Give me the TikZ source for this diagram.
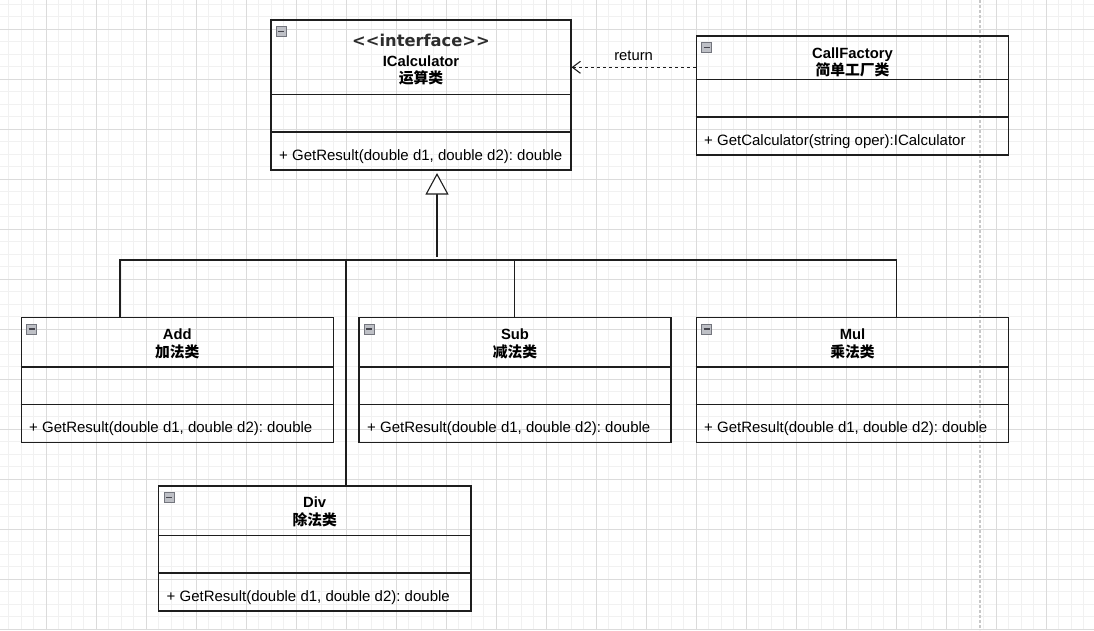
\documentclass[tikz,border=0pt]{standalone}
\usepackage{fontspec}
\setmainfont{Liberation Sans}
\newfontfamily\cjkfont{Noto Sans CJK SC}
\newfontfamily\stereofont{DejaVu Sans}
\usetikzlibrary{arrows.meta}
\frenchspacing

\definecolor{gridminor}{RGB}{241,241,241}
\definecolor{gridmajor}{RGB}{219,219,219}
\definecolor{pagesplit}{RGB}{200,200,200}
\definecolor{boxline}{RGB}{30,30,30}
\definecolor{iconfill}{RGB}{190,192,198}
\definecolor{iconline}{RGB}{115,117,125}
\definecolor{iconbar}{RGB}{70,70,78}
\definecolor{stereo}{RGB}{45,45,45}

\tikzset{
  classbox/.style={draw=boxline, line width=1.1pt, inner sep=0pt, rectangle},
  sepline/.style={draw=boxline, line width=1.1pt},
  classname/.style={anchor=base, inner sep=0pt, font=\bfseries\fontsize{14.8}{18}\selectfont},
  cjkname/.style={anchor=base, inner sep=0pt, font=\cjkfont\bfseries\fontsize{14.8}{18}\selectfont},
  stereotype/.style={anchor=base, inner sep=0pt, text=stereo, font=\stereofont\bfseries\fontsize{16.3}{19}\selectfont},
  member/.style={anchor=base west, inner sep=0pt, font=\fontsize{15}{18}\selectfont},
  edgelabel/.style={anchor=base, inner sep=0pt, font=\fontsize{14.8}{18}\selectfont},
  generalize/.style={draw=boxline, line width=1.1pt},
  realize/.style={draw=boxline, line width=1.1pt, -{Triangle[length=21.5pt, width=23pt, fill=white]}},
  dependency/.style={draw=boxline, line width=1.1pt, dash pattern=on 3pt off 3pt,
    -{Straight Barb[length=8pt, width=12pt, line width=1.1pt]}},
  collapse/.pic={
    \draw[fill=iconfill, draw=iconline, line width=0.8pt] (0,0) rectangle (10,10);
    \draw[iconbar, line width=1.4pt] (2,5) -- (8,5);
  }
}

\begin{document}
\begin{tikzpicture}[x=1pt, y=-1pt]
  \useasboundingbox (0,0) rectangle (1094,630);
  \fill[white] (0,0) rectangle (1094,630);

  % background grid
  \foreach \x in {8.5,21,...,1094} \draw[gridminor, line width=1pt] (\x,0) -- (\x,630);
  \foreach \y in {4,16.5,...,630} \draw[gridminor, line width=1pt] (0,\y) -- (1094,\y);
  \foreach \x in {46,96,...,1094} \draw[gridmajor, line width=1pt] (\x,0) -- (\x,630);
  \foreach \y in {29,79,...,630} \draw[gridmajor, line width=1pt] (0,\y) -- (1094,\y);

  % page break marker
  \draw[pagesplit, line width=1.3pt, dash pattern=on 3pt off 2pt] (980,0) -- (980,630);

  % ---- ICalculator ----
  \node[classbox, minimum width=300pt, minimum height=150pt] (calc) at (421,95) {};
  \draw[sepline] ([yshift=-75pt]calc.north west) -- ([yshift=-75pt]calc.north east);
  \draw[sepline] ([yshift=-112.5pt]calc.north west) -- ([yshift=-112.5pt]calc.north east);
  \pic at ([xshift=6pt, yshift=-7pt]calc.north west) {collapse};
  \node[stereotype] (calcS) at (421,46.7) {<<interface>>};
  \node[classname] (calcN) at (421,66) {ICalculator};
  \node[cjkname] (calcC) at (421,83.5) {运算类};
  \node[member] (calcM) at (279,160.5) {+ GetResult(double d1, double d2): double};

  % ---- CallFactory ----
  \node[classbox, minimum width=312.5pt, minimum height=119pt] (factory) at (852.5,95.5) {};
  \draw[sepline] ([yshift=-44pt]factory.north west) -- ([yshift=-44pt]factory.north east);
  \draw[sepline] ([yshift=-81.5pt]factory.north west) -- ([yshift=-81.5pt]factory.north east);
  \pic at ([xshift=6pt, yshift=-7pt]factory.north west) {collapse};
  \node[classname] (factoryN) at (852.5,58.3) {CallFactory};
  \node[cjkname] (factoryC) at (852.5,75.8) {简单工厂类};
  \node[member] (factoryM) at (704,145) {+ GetCalculator(string oper):ICalculator};

  % ---- Add ----
  \node[classbox, minimum width=312pt, minimum height=125pt] (add) at (177.2,380) {};
  \draw[sepline] ([yshift=-50pt]add.north west) -- ([yshift=-50pt]add.north east);
  \draw[sepline] ([yshift=-87.5pt]add.north west) -- ([yshift=-87.5pt]add.north east);
  \pic at ([xshift=6pt, yshift=-7pt]add.north west) {collapse};
  \node[classname] (addN) at (177.2,339.5) {Add};
  \node[cjkname] (addC) at (177.2,357.5) {加法类};
  \node[member] (addM) at (29,432.5) {+ GetResult(double d1, double d2): double};

  % ---- Sub ----
  \node[classbox, minimum width=312pt, minimum height=125pt] (sub) at (515,380) {};
  \draw[sepline] ([yshift=-50pt]sub.north west) -- ([yshift=-50pt]sub.north east);
  \draw[sepline] ([yshift=-87.5pt]sub.north west) -- ([yshift=-87.5pt]sub.north east);
  \pic at ([xshift=6pt, yshift=-7pt]sub.north west) {collapse};
  \node[classname] (subN) at (515,339.5) {Sub};
  \node[cjkname] (subC) at (515,357.5) {减法类};
  \node[member] (subM) at (367,432.5) {+ GetResult(double d1, double d2): double};

  % ---- Mul ----
  \node[classbox, minimum width=312.5pt, minimum height=125pt] (mul) at (852.5,380) {};
  \draw[sepline] ([yshift=-50pt]mul.north west) -- ([yshift=-50pt]mul.north east);
  \draw[sepline] ([yshift=-87.5pt]mul.north west) -- ([yshift=-87.5pt]mul.north east);
  \pic at ([xshift=6pt, yshift=-7pt]mul.north west) {collapse};
  \node[classname] (mulN) at (852.5,339.5) {Mul};
  \node[cjkname] (mulC) at (852.5,357.5) {乘法类};
  \node[member] (mulM) at (704,432.5) {+ GetResult(double d1, double d2): double};

  % ---- Div ----
  \node[classbox, minimum width=312.5pt, minimum height=125pt] (div) at (314.7,548.5) {};
  \draw[sepline] ([yshift=-50pt]div.north west) -- ([yshift=-50pt]div.north east);
  \draw[sepline] ([yshift=-87.5pt]div.north west) -- ([yshift=-87.5pt]div.north east);
  \pic at ([xshift=6pt, yshift=-7pt]div.north west) {collapse};
  \node[classname] (divN) at (314.7,507.7) {Div};
  \node[cjkname] (divC) at (314.7,525.7) {除法类};
  \node[member] (divM) at (166.5,601) {+ GetResult(double d1, double d2): double};

  % ---- dependency: factory returns an ICalculator ----
  \coordinate (retY) at (0,67.3);
  \draw[dependency] (factory.west |- retY) -- (calc.east |- retY)
    node[edgelabel, midway, yshift=7.3pt] (retL) {return};

  % ---- generalization tree ----
  \coordinate (bus) at (437,260);
  \coordinate (trunk) at (437,257);
  \path (calc.south -| trunk) coordinate (tipbase);
  \draw[realize] (trunk) -- ([yshift=-2.5pt]tipbase);
  \draw[generalize] ([xshift=-57.2pt]add.north) |- (bus);
  \draw[generalize] ([xshift=31.3pt]div.north) |- (bus);
  \draw[generalize] ([xshift=-0.7pt]sub.north) |- (bus);
  \draw[generalize] ([xshift=43.8pt]mul.north) |- (bus);
\end{tikzpicture}
\end{document}
